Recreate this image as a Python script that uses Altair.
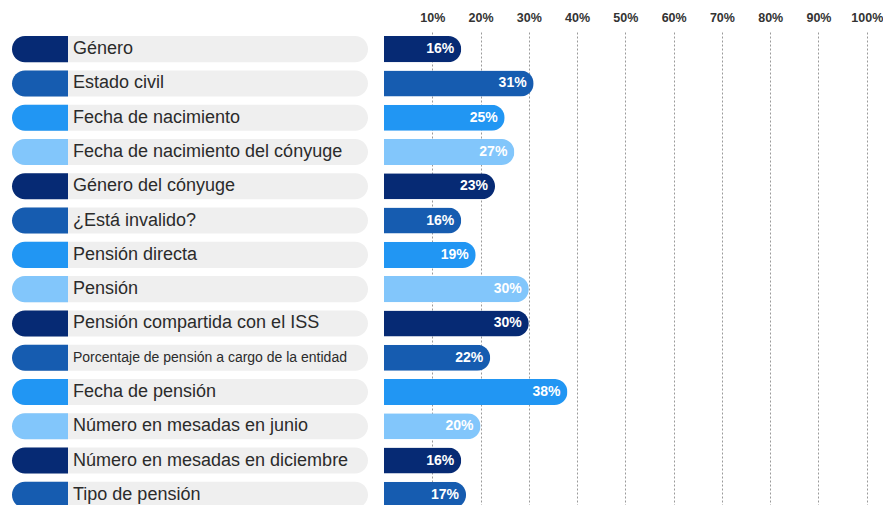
import altair as alt
import pandas as pd

labels = [
    "Género",
    "Estado civil",
    "Fecha de nacimiento",
    "Fecha de nacimiento del cónyuge",
    "Género del cónyuge",
    "¿Está invalido?",
    "Pensión directa",
    "Pensión",
    "Pensión compartida con el ISS",
    "Porcentaje de pensión a cargo de la entidad",
    "Fecha de pensión",
    "Número en mesadas en junio",
    "Número en mesadas en diciembre",
    "Tipo de pensión",
]
values = [16, 31, 25, 27, 23, 16, 19, 30, 30, 22, 38, 20, 16, 17]
tick_values = [10, 20, 30, 40, 50, 60, 70, 80, 90, 100]
palette = ["#062a74", "#165cb0", "#2196f3", "#82c6fb"]

df = pd.DataFrame({
    "label": labels,
    "value": values,
    "tone": [i % 4 for i in range(len(labels))],
})

FONT = "Liberation Sans"
H = 480
LEFT_W = 356
RIGHT_W = 490
R = 13

y_enc = alt.Y("label:N", sort=labels, axis=None,
              scale=alt.Scale(paddingInner=0.24, paddingOuter=0.12))
color_enc = alt.Color("tone:O", legend=None,
                      scale=alt.Scale(domain=[0, 1, 2, 3], range=palette))

base_left = alt.Chart(df).properties(width=LEFT_W, height=H)

pill = base_left.mark_bar(cornerRadius=R, color="#efefef").encode(
    y=y_enc, x=alt.value(0), x2=alt.value(LEFT_W)
)
tab = base_left.mark_bar(cornerRadiusTopLeft=R, cornerRadiusBottomLeft=R).encode(
    y=y_enc, x=alt.value(0), x2=alt.value(56), color=color_enc
)
names = base_left.mark_text(align="left", baseline="middle", font=FONT,
                            color="#2b2b2b").encode(
    y=y_enc,
    x=alt.value(61),
    text="label:N",
    size=alt.condition(
        alt.datum.label == "Porcentaje de pensión a cargo de la entidad",
        alt.value(14), alt.value(18)),
)
left = alt.layer(pill, tab, names)

base_right = alt.Chart(df).properties(width=RIGHT_W, height=H)
x_enc = alt.X(
    "value:Q",
    scale=alt.Scale(domain=[0, 101.5], nice=False),
    axis=alt.Axis(
        orient="top", values=tick_values, title=None, domain=False, ticks=False,
        labelExpr="datum.value + '%'", labelFont=FONT, labelFontSize=12.5,
        labelFontWeight="bold", labelColor="#333333", labelPadding=8,
        labelFlush=False, labelOverlap=False,
        grid=True, gridDash=[2, 2], gridColor="#9a9a9a", gridWidth=1,
    ),
)
bars = base_right.mark_bar(cornerRadiusEnd=R).encode(
    x=x_enc, y=y_enc, color=color_enc
)
vals = base_right.transform_calculate(txt="datum.value + '%'").mark_text(
    align="right", baseline="middle", dx=-7, font=FONT, fontSize=14,
    fontWeight="bold", color="white"
).encode(x=alt.X("value:Q"), y=y_enc, text="txt:N")
right = alt.layer(bars, vals)

chart = alt.hconcat(left, right, spacing=16, bounds="flush").properties(
    padding={"left": 4, "top": 3, "right": 0, "bottom": 0}
).configure_view(stroke=None)

chart.save("out.html", embed_options={"renderer": "svg", "actions": False})
